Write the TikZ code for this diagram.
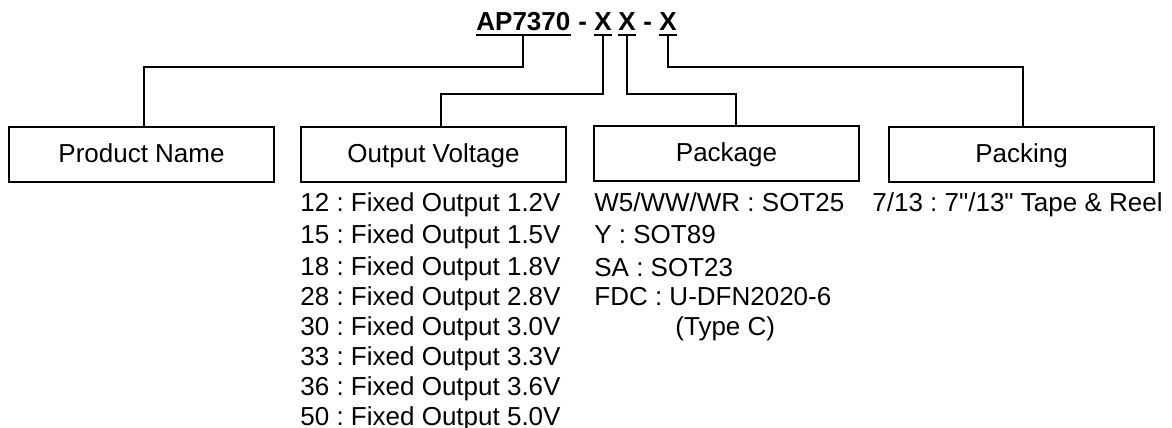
\documentclass[tikz,border=0pt]{standalone}
\usepackage{tikz}
\usepackage{xcolor}
\usepackage{fontspec}
\setmainfont{Liberation Sans}[Ligatures=TeXOff]
\usetikzlibrary{calc}

\begin{document}
\begin{tikzpicture}[x=0.5pt, y=-0.5pt,
    font=\fontsize{13}{16}\selectfont\frenchspacing,
    field/.style={draw, line width=1pt, minimum width=132.5pt, minimum height=27.5pt,
      inner sep=0pt, text height=9.3pt, text depth=1pt},
    code/.style={inner sep=0pt, anchor=base west, font=\fontsize{13}{16}\selectfont\bfseries},
    item/.style={inner sep=0pt, anchor=base west},
    wire/.style={line width=1pt}]
      \useasboundingbox (0,0) rectangle (1172,428);

      % part number
      \node[code] (ap) at (476,31) {AP7370};
      \node[code] (d1) at (578,31) {-};
      \node[code] (xa) at (594,31) {X};
      \node[code] (xb) at (618,31) {X};
      \node[code] (d2) at (643,31) {-};
      \node[code] (xc) at (659,31) {X};
      \foreach \n in {ap,xa,xb,xc}
        \draw[wire] ($(\n.base west)+(0,4)$) -- ($(\n.base east)+(0,4)$);

      % fields
      \node[field] (name) at (141.5,154.5) {Product Name};
      \node[field] (volt) at (433.5,154.5) {Output Voltage};
      \node[field] (pkg) at (726.5,153) {Package};
      \node[field] (pack) at (1021.5,154) {Packing};

      % connectors
      \draw[wire] ($(ap.base)+(0,4)$) -- ++(0,32) -| ([xshift=1.25pt]name.north);
      \draw[wire] ($(xa.base)+(0,4)$) -- ++(0,59) -| ([xshift=3.75pt]volt.north);
      \draw[wire] ($(xb.base)+(0,4)$) -- ++(0,59) -| ([xshift=4.75pt]pkg.north);
      \draw[wire] ($(xc.base)+(0,4)$) -- ++(0,32) -| ([xshift=0.75pt]pack.north);

      % output voltage codes
      \foreach \c/\volt/\y in {12/1.2/211, 15/1.5/243, 18/1.8/275, 28/2.8/305,
                              30/3.0/335, 33/3.3/365, 36/3.6/395, 50/5.0/425}
        \node[item] (v\c) at (300,\y) {\c{} : Fixed Output \volt V};

      % package codes
      \node[item] (p1) at (594,211) {W5/WW/WR : SOT25};
      \node[item] (p2) at (594,243) {Y : SOT89};
      \node[item] (p3) at (594,276) {SA : SOT23};
      \node[item] (p4) at (594,305) {FDC : U-DFN2020-6};
      \node[item] (p5) at (675,335) {(Type C)};

      % packing code
      \node[item] (k1) at (872,211) {7/13 : 7"/13" Tape \& Reel};
\end{tikzpicture}
\end{document}
